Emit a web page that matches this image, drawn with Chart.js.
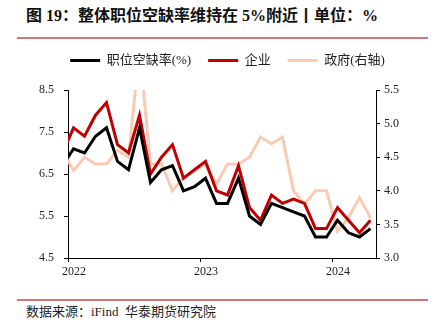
<!DOCTYPE html>
<html lang="zh">
<head>
  <meta charset="UTF-8">
  <title>整体职位空缺率维持在5%附近</title>
  <script src="https://cdn.jsdelivr.net/npm/chart.js"></script>
  <style>
    body {
      margin: 0;
      width: 435px;
      height: 329px;
      background: #fff;
      position: relative;
      overflow: hidden;
      font-family: 'Liberation Serif', 'Noto Sans CJK SC', serif;
    }
    .title {
      position: absolute;
      left: 26px;
      top: 6px;
      font-size: 16px;
      font-weight: bold;
      line-height: 20px;
      white-space: nowrap;
      color: #111;
    }
    .rule {
      position: absolute;
      left: 17px;
      width: 411px;
      height: 2px;
      background: #d27676;
    }
    .source {
      position: absolute;
      left: 26px;
      top: 304px;
      font-size: 13px;
      line-height: 16px;
      white-space: nowrap;
      color: #222;
    }
    #wrap {
      position: absolute;
      left: 0;
      top: 37px;
      width: 435px;
      height: 250px;
    }
  </style>
</head>
<body>

<div class="title">图 19：整体职位空缺率维持在 5%附近丨单位：%</div>
<div class="rule" style="top: 37px;"></div>

<div id="wrap"><canvas id="vacancyChart"></canvas></div>

<div class="rule" style="top: 299px;"></div>
<div class="source">数据来源：iFind&nbsp;&nbsp;华泰期货研究院</div>

<script>
  // monthly data, Dec 2021 - Apr 2024
  const months = [
    '2021-12',
    '2022-01', '2022-02', '2022-03', '2022-04', '2022-05', '2022-06',
    '2022-07', '2022-08', '2022-09', '2022-10', '2022-11', '2022-12',
    '2023-01', '2023-02', '2023-03', '2023-04', '2023-05', '2023-06',
    '2023-07', '2023-08', '2023-09', '2023-10', '2023-11', '2023-12',
    '2024-01', '2024-02', '2024-03', '2024-04'
  ];
  const years = ['2022', '2023', '2024'];

  const vacancyRate = [
    6.7,
    7.1, 7.0, 7.4, 7.6, 6.8, 6.6, 7.6, 6.3, 6.6, 6.7, 6.1, 6.2,
    6.4, 5.8, 5.8, 6.4, 5.5, 5.3, 5.8, 5.7, 5.6, 5.5, 5.0, 5.0,
    5.4, 5.1, 5.0, 5.2
  ];
  const business = [
    7.0,
    7.6, 7.4, 7.9, 8.2, 7.2, 7.0, 7.9, 6.5, 6.9, 7.2, 6.4, 6.6,
    6.8, 6.1, 6.0, 6.7, 5.7, 5.4, 6.0, 5.8, 5.9, 5.8, 5.2, 5.2,
    5.7, 5.4, 5.1, 5.4
  ];
  const government = [
    4.6,
    4.3, 4.5, 4.4, 4.4, 4.6, 4.5, 6.1, 4.4, 4.4, 4.0, 4.2, 4.3,
    4.4, 4.1, 4.4, 4.4, 4.5, 4.8, 4.7, 4.8, 4.0, 3.8, 4.0, 4.0,
    3.4, 3.6, 3.9, 3.6
  ];

  // x = months since Jan 2022, points sit mid-month
  function monthPos(m) {
    const parts = m.split('-').map(Number);
    return (parts[0] - 2022) * 12 + (parts[1] - 1) + 0.5;
  }
  const toPoints = vals => vals.map((v, i) => ({ x: monthPos(months[i]), y: v }));

  const tickFont = { family: "'Liberation Serif', serif", size: 12 };

  const ctx = document.getElementById('vacancyChart').getContext('2d');
  new Chart(ctx, {
    type: 'line',
    data: {
      datasets: [
        {
          label: '职位空缺率(%)',
          data: toPoints(vacancyRate),
          borderColor: '#000000',
          backgroundColor: '#000000',
          borderWidth: 3,
          yAxisID: 'y'
        },
        {
          label: '企业',
          data: toPoints(business),
          borderColor: '#c00000',
          backgroundColor: '#c00000',
          borderWidth: 3,
          yAxisID: 'y'
        },
        {
          label: '政府(右轴)',
          data: toPoints(government),
          borderColor: '#f9cbb2',
          backgroundColor: '#f9cbb2',
          borderWidth: 3,
          yAxisID: 'y1'
        }
      ]
    },
    options: {
      responsive: true,
      maintainAspectRatio: false,
      animation: false,
      layout: { padding: { left: 20, right: 0, top: 0, bottom: 0 } },
      elements: {
        point: { radius: 0 },
        line: { tension: 0 }
      },
      plugins: {
        legend: {
          position: 'top',
          labels: {
            boxWidth: 30,
            boxHeight: 0,
            padding: 17,
            color: '#222',
            font: { family: "'Liberation Serif', 'Noto Sans CJK SC', serif", size: 13 }
          }
        },
        // blank spacer between legend and plot
        subtitle: {
          display: true,
          text: '',
          weight: 500,
          font: { size: 1, lineHeight: 1 },
          padding: { top: 0, bottom: 12 }
        },
        tooltip: { enabled: false }
      },
      scales: {
        x: {
          type: 'linear',
          position: 'bottom',
          min: 0,
          max: 28,
          afterFit: scale => { scale.height = 29; },
          ticks: {
            stepSize: 12,
            includeBounds: false,
            autoSkip: false,
            maxRotation: 0,
            labelOffset: 6,
            padding: 3,
            color: '#222',
            font: tickFont,
            callback: v => years[v / 12] || ''
          },
          grid: { drawOnChartArea: false, drawTicks: true, tickLength: 4, color: '#000' },
          border: { display: true, color: '#000', width: 1 }
        },
        y: {
          position: 'left',
          min: 4.5,
          max: 8.5,
          afterFit: scale => { scale.width = 48; },
          ticks: {
            stepSize: 1,
            padding: 10,
            color: '#222',
            font: tickFont,
            callback: v => v.toFixed(1)
          },
          grid: { drawOnChartArea: false, drawTicks: true, tickLength: 4, color: '#000' },
          border: { display: true, color: '#000', width: 1 }
        },
        y1: {
          position: 'right',
          min: 3,
          max: 5.5,
          afterFit: scale => { scale.width = 59; },
          ticks: {
            stepSize: 0.5,
            padding: 4,
            color: '#222',
            font: tickFont,
            callback: v => v.toFixed(1)
          },
          grid: { drawOnChartArea: false, drawTicks: true, tickLength: 4, color: '#000' },
          border: { display: true, color: '#000', width: 1 }
        }
      }
    }
  });
</script>

</body>
</html>
